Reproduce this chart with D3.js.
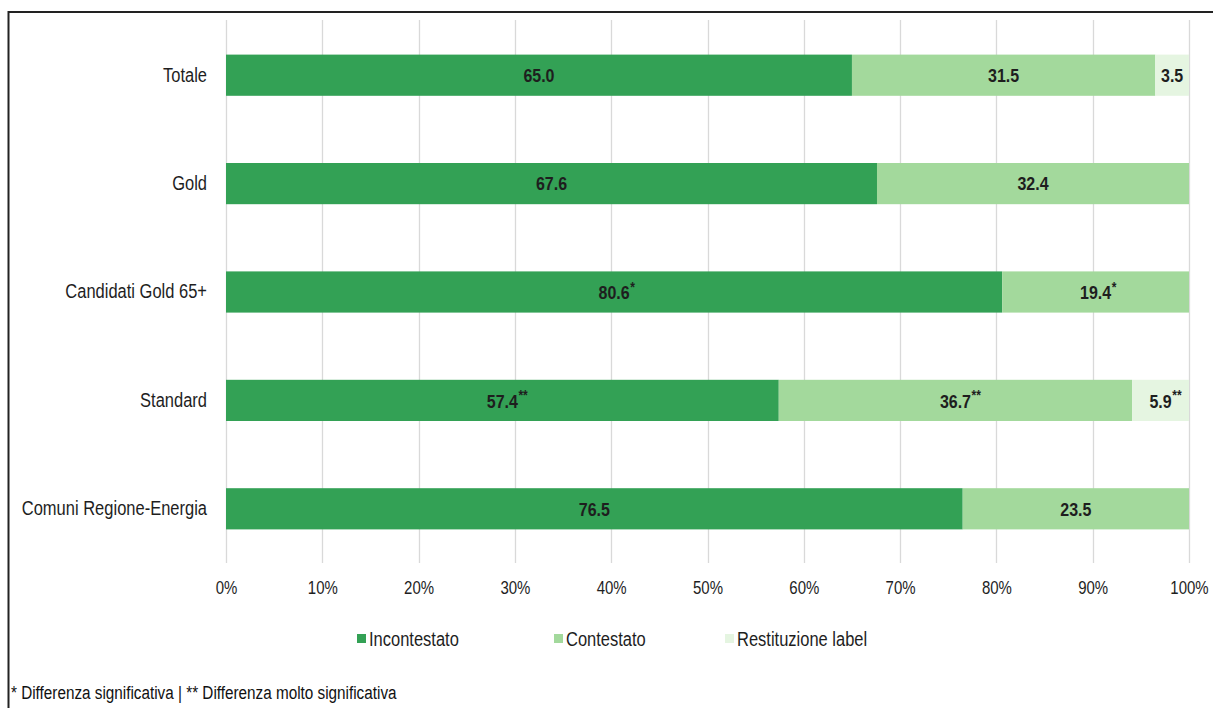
<!DOCTYPE html>
<html>
<head>
<meta charset="utf-8">
<script src="https://cdn.jsdelivr.net/npm/d3@7"></script>
<style>
  html, body { margin: 0; padding: 0; background: #fff; }
  svg { display: block; }
  text { font-family: "Liberation Sans", Arial, sans-serif; }
</style>
</head>
<body>
<svg id="chart" width="1213" height="708"></svg>
<script>
// Categories and shares (%) per outcome
const categories = ["Totale", "Gold", "Candidati Gold 65+", "Standard", "Comuni Regione-Energia"];
const incontestato = [65.0, 67.6, 80.6, 57.4, 76.5];
const contestato   = [31.5, 32.4, 19.4, 36.7, 23.5];
const restituzione = [3.5, 0, 0, 5.9, 0];
// Significance markers attached to each value label
const sigIncontestato = ["", "", "*", "**", ""];
const sigContestato   = ["", "", "*", "**", ""];
const sigRestituzione = ["", "", "", "**", ""];
const seriesNames = ["Incontestato", "Contestato", "Restituzione label"];
const tickValues = [0, 10, 20, 30, 40, 50, 60, 70, 80, 90, 100];
const footnote = "* Differenza significativa | ** Differenza molto significativa";

const colors = ["#33a155", "#a3d99c", "#e5f5e1"];
const textColor = "#1e1e1e";

const svg = d3.select("#chart");

// frame around the figure
svg.append("line").attr("x1", 8).attr("x2", 1213).attr("y1", 12).attr("y2", 12)
  .attr("stroke", "#222").attr("stroke-width", 2);
svg.append("line").attr("x1", 8.5).attr("x2", 8.5).attr("y1", 11).attr("y2", 708)
  .attr("stroke", "#222").attr("stroke-width", 2);

const x = d3.scaleLinear().domain([0, 100]).range([226, 1189]);
const y = d3.scaleBand().domain(categories).range([21, 563]).paddingInner(0.62).paddingOuter(0.31);

// vertical gridlines
svg.append("g").selectAll("line").data(tickValues).join("line")
  .attr("x1", d => Math.round(x(d)) + 0.5).attr("x2", d => Math.round(x(d)) + 0.5)
  .attr("y1", 20).attr("y2", 563)
  .attr("stroke", "#d9d9d9").attr("stroke-width", 1.3);

// x axis tick labels
const xAxis = d3.axisBottom(x).tickValues(tickValues).tickSize(0).tickPadding(0)
  .tickFormat(d => d + "%");
const gx = svg.append("g").attr("transform", "translate(0,582)").call(xAxis);
gx.select(".domain").remove();
gx.selectAll("text").attr("font-size", 15).attr("fill", textColor).attr("dy", "0.71em")
  .style("font-family", "'Liberation Sans', Arial, sans-serif");

// category labels
const yAxis = d3.axisLeft(y).tickSize(0).tickPadding(19);
const gy = svg.append("g").attr("transform", "translate(226,0)").call(yAxis);
gy.select(".domain").remove();
gy.selectAll("text").attr("font-size", 16.5).attr("fill", textColor)
  .style("font-family", "'Liberation Sans', Arial, sans-serif");

// stacked data
const rows = categories.map((c, i) => ({
  cat: c,
  Incontestato: incontestato[i],
  Contestato: contestato[i],
  "Restituzione label": restituzione[i]
}));
const sigs = [sigIncontestato, sigContestato, sigRestituzione];
const stack = d3.stack().keys(seriesNames)(rows);

const labelLayer = svg.append("g");
stack.forEach((layer, si) => {
  const g = svg.insert("g", () => labelLayer.node());
  g.selectAll("rect").data(layer.filter(d => d[1] - d[0] > 0)).join("rect")
    .attr("x", d => x(d[0]))
    .attr("width", d => x(d[1]) - x(d[0]))
    .attr("y", d => y(d.data.cat))
    .attr("height", y.bandwidth())
    .attr("fill", colors[si]);

  layer.forEach((d, ri) => {
    const v = d[1] - d[0];
    if (v <= 0) return;
    const cx = (x(d[0]) + x(d[1])) / 2;
    const cy = y(d.data.cat) + y.bandwidth() / 2;
    const t = labelLayer.append("text")
      .attr("y", cy).attr("dy", "0.36em")
      .attr("font-size", 16).attr("font-weight", "bold").attr("fill", textColor);
    const main = t.append("tspan").text(v.toFixed(1));
    const w = main.node().getComputedTextLength();
    main.attr("x", cx - w / 2);
    const s = sigs[si][ri];
    if (s) {
      // superscript marker set just after the value
      t.append("tspan").attr("x", cx + w / 2 + 0.5).attr("dy", -6)
        .attr("font-size", 12).text(s);
    }
  });
});

// legend
const legendX = [357, 554, 725];
const lg = svg.append("g");
seriesNames.forEach((n, i) => {
  lg.append("rect").attr("x", legendX[i]).attr("y", 634).attr("width", 9).attr("height", 9)
    .attr("fill", colors[i]);
  lg.append("text").attr("x", legendX[i] + 12).attr("y", 639).attr("dy", "0.36em")
    .attr("font-size", 16.5).attr("fill", textColor).text(n);
});

// footnote
svg.append("text").attr("x", 11).attr("y", 692).attr("dy", "0.36em")
  .attr("font-size", 15.3).attr("fill", "#111").text(footnote);

// the typeface is drawn slightly tall: stretch every label vertically about its centre
svg.selectAll("text").each(function () {
  const b = this.getBBox();
  const c = b.y + b.height / 2;
  const prev = d3.select(this).attr("transform") || "";
  d3.select(this).attr("transform",
    `${prev} translate(0,${c}) scale(1,1.2) translate(0,${-c})`);
});
</script>
</body>
</html>
